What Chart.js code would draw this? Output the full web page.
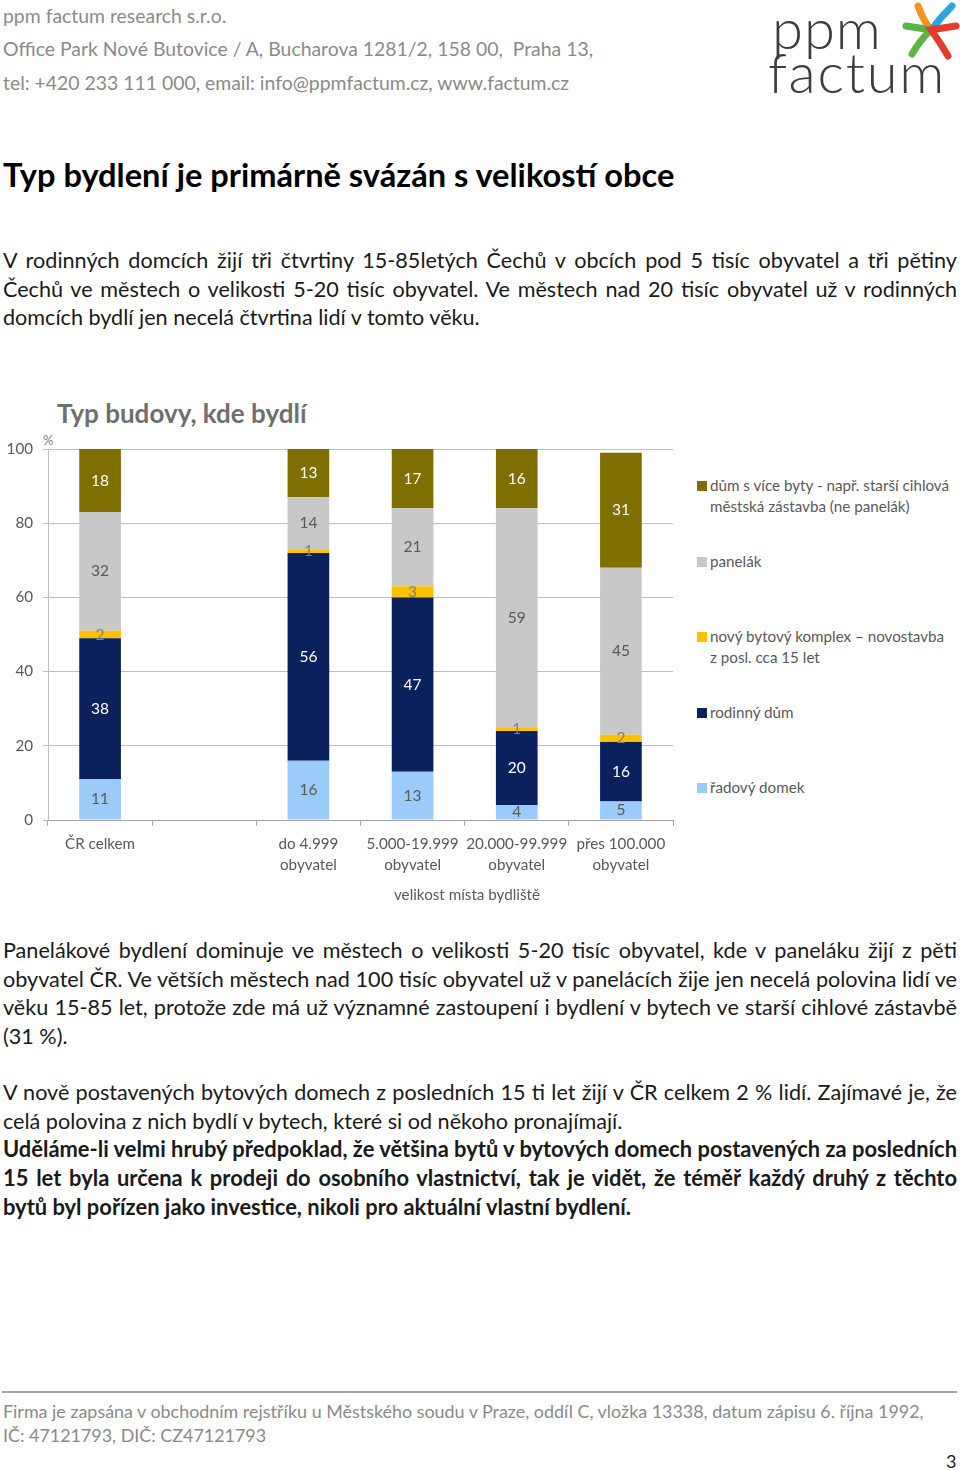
<!DOCTYPE html>
<html>
<head>
<meta charset="utf-8">
<script src="https://cdn.jsdelivr.net/npm/chart.js@4"></script>
<style>
  body { margin: 0; background: #fff; font-family: Lato, "Open Sans", sans-serif; }
  #page { position: relative; width: 960px; height: 1470px; overflow: hidden; }
  .abs { position: absolute; white-space: nowrap; }
  .hdr { left: 3px; font-size: 19.4px; color: #8a8a8a; }
  .para { position: absolute; left: 3px; width: 954px; font-size: 21.6px; color: #1a1a1a; }
  .para div { height: 28.7px; line-height: 28.7px; }
  .just { text-align: justify; text-align-last: justify; }
  .bold { font-weight: bold; font-size: 21.9px; }
  #legend { position: absolute; left: 697px; top: 0; }
  .lg { position: absolute; left: 0; font-size: 15.2px; color: #595959; line-height: 21px; white-space: nowrap; }
  .lg span.sw { position: absolute; left: 0; top: 6px; width: 10px; height: 10px; }
  .lg div { padding-left: 13px; }
</style>
</head>
<body>
<div id="page">
  <div class="abs hdr" style="top:4px">ppm factum research s.r.o.</div>
  <div class="abs hdr" style="top:37px">Office Park Nové Butovice / A, Bucharova 1281/2, 158 00,&nbsp; Praha 13,</div>
  <div class="abs hdr" style="top:71px">tel: +420 233 111 000, email: info@ppmfactum.cz, www.factum.cz</div>

  <div class="abs" style="left:772px;top:-6px;font-size:56px;font-weight:300;color:#3d3d3d;letter-spacing:1px">ppm</div>
  <div class="abs" style="left:768px;top:38px;font-size:56px;font-weight:300;color:#3d3d3d;letter-spacing:1.8px">factum</div>
  <svg class="abs" style="left:900px;top:2px" width="60" height="58" viewBox="0 0 60 58">
    <path d="M18 4 Q24 20 31 28" stroke="#f39322" stroke-width="7" fill="none" stroke-linecap="round"/>
    <path d="M52 4 Q40 16 31 28" stroke="#2aa6e0" stroke-width="7" fill="none" stroke-linecap="round"/>
    <path d="M6 24 Q20 26 31 28 Q20 38 12 52" stroke="#5bb544" stroke-width="7" fill="none" stroke-linecap="round"/>
    <path d="M56 24 Q42 26 31 28 Q40 40 48 54" stroke="#e53b2c" stroke-width="7" fill="none" stroke-linecap="round"/>
  </svg>

  <div class="abs" style="left:3px;top:155px;font-size:32.6px;font-weight:bold;color:#000">Typ bydlení je primárně svázán s velikostí obce</div>

  <div class="para" style="top:246px">
    <div class="just">V rodinných domcích žijí tři čtvrtiny 15-85letých Čechů v obcích pod 5 tisíc obyvatel a tři pětiny</div>
    <div class="just">Čechů ve městech o velikosti 5-20 tisíc obyvatel. Ve městech nad 20 tisíc obyvatel už v rodinných</div>
    <div>domcích bydlí jen necelá čtvrtina lidí v tomto věku.</div>
  </div>

  <div class="abs" style="left:57px;top:397px;font-size:26px;font-weight:bold;color:#6f6f6f">Typ budovy, kde bydlí</div>
  <div class="abs" style="left:43px;top:432px;font-size:13px;color:#7f7f7f">%</div>

  <canvas id="chart" class="abs" style="left:0;top:400px" width="680" height="510"></canvas>
  <div class="abs" style="left:394px;top:885px;font-size:15.2px;color:#595959">velikost místa bydliště</div>
  <div id="legend"></div>

  <div class="para" style="top:936px">
    <div class="just">Panelákové bydlení dominuje ve městech o velikosti 5-20 tisíc obyvatel, kde v paneláku žijí z pěti</div>
    <div class="just">obyvatel ČR. Ve větších městech nad 100 tisíc obyvatel už v panelácích žije jen necelá polovina lidí ve</div>
    <div class="just">věku 15-85 let, protože zde má už významné zastoupení i bydlení v bytech ve starší cihlové zástavbě</div>
    <div>(31 %).</div>
  </div>

  <div class="para" style="top:1078px">
    <div class="just">V nově postavených bytových domech z posledních 15 ti let žijí v ČR celkem 2 % lidí. Zajímavé je, že</div>
    <div>celá polovina z nich bydlí v bytech, které si od někoho pronajímají.</div>
    <div class="just bold">Uděláme-li velmi hrubý předpoklad, že většina bytů v bytových domech postavených za posledních</div>
    <div class="just bold">15 let byla určena k prodeji do osobního vlastnictví, tak je vidět, že téměř každý druhý z těchto</div>
    <div class="bold">bytů byl pořízen jako investice, nikoli pro aktuální vlastní bydlení.</div>
  </div>

  <div class="abs" style="left:2px;top:1391px;width:955px;height:2px;background:#a6a6a6"></div>
  <div class="abs" style="left:3px;top:1400px;font-size:17.9px;color:#8a8a8a">Firma je zapsána v obchodním rejstříku u Městského soudu v Praze, oddíl C, vložka 13338, datum zápisu 6. října 1992,</div>
  <div class="abs" style="left:3px;top:1424px;font-size:17.9px;color:#8a8a8a">IČ: 47121793, DIČ: CZ47121793</div>
  <div class="abs" style="left:946px;top:1450px;font-size:18px;color:#222">3</div>
</div>

<script>
const categories = [
    'ČR celkem',
    '',
    ['do 4.999', 'obyvatel'],
    ['5.000-19.999', 'obyvatel'],
    ['20.000-99.999', 'obyvatel'],
    ['přes 100.000', 'obyvatel']
];

// stacked bottom to top
const seriesNames = [
    'řadový domek',
    'rodinný dům',
    ['nový bytový komplex – novostavba', 'z posl. cca 15 let'],
    'panelák',
    ['dům s více byty - např. starší cihlová', 'městská zástavba (ne panelák)']
];
const radovyDomek = [11, null, 16, 13, 4, 5];
const rodinnyDum = [38, null, 56, 47, 20, 16];
const novyKomplex = [2, null, 1, 3, 1, 2];
const panelak = [32, null, 14, 21, 59, 45];
const vicebyty = [18, null, 13, 17, 16, 31];
const yTicks = [0, 20, 40, 60, 80, 100];

const colors = ['#9bcbf8', '#0b215e', '#ffc000', '#c8c8c8', '#7f6f00'];
const labelColors = ['#595959', '#ffffff', '#7f7f7f', '#595959', '#ffffff'];
const allSeries = [radovyDomek, rodinnyDum, novyKomplex, panelak, vicebyty];

// legend (top series first)
const legendTops = [475, 551, 626, 702, 777];
const legendDiv = document.getElementById('legend');
for (let i = 4; i >= 0; i--) {
    const item = document.createElement('div');
    item.className = 'lg';
    item.style.top = legendTops[4 - i] + 'px';
    const lines = Array.isArray(seriesNames[i]) ? seriesNames[i] : [seriesNames[i]];
    item.innerHTML = `<span class="sw" style="background:${colors[i]}"></span>` +
        lines.map(l => `<div>${l}</div>`).join('');
    legendDiv.appendChild(item);
}

const valueLabels = {
    id: 'valueLabels',
    afterDatasetsDraw(chart) {
        const ctx = chart.ctx;
        ctx.save();
        ctx.font = '15.5px Lato';
        ctx.textAlign = 'center';
        ctx.textBaseline = 'middle';
        chart.data.datasets.forEach((ds, i) => {
            const meta = chart.getDatasetMeta(i);
            meta.data.forEach((bar, j) => {
                const v = ds.data[j];
                if (v === null) return;
                const top = Math.max(bar.y, chart.chartArea.top);
                ctx.fillStyle = labelColors[i];
                ctx.fillText(v, bar.x, (top + bar.base) / 2);
            });
        });
        ctx.restore();
    }
};

new Chart(document.getElementById('chart'), {
    type: 'bar',
    data: {
        labels: categories,
        datasets: allSeries.map((d, i) => ({
            label: Array.isArray(seriesNames[i]) ? seriesNames[i].join(' ') : seriesNames[i],
            data: d,
            backgroundColor: colors[i],
            borderWidth: 0,
            categoryPercentage: 1,
            barPercentage: 0.4
        }))
    },
    options: {
        responsive: false,
        animation: false,
        layout: { padding: { top: 49, right: 7, bottom: 0, left: 0 } },
        plugins: {
            legend: { display: false },
            tooltip: { enabled: false }
        },
        scales: {
            x: {
                stacked: true,
                afterFit: s => { s.height = 90; },
                grid: { drawOnChartArea: false, tickLength: 6, color: '#a6a6a6' },
                border: { color: '#a6a6a6' },
                ticks: {
                    padding: 7,
                    color: '#595959',
                    font: { family: 'Lato', size: 15.2, lineHeight: 1.4 },
                    maxRotation: 0,
                    autoSkip: false
                }
            },
            y: {
                stacked: true,
                min: 0,
                max: 100,
                afterFit: s => { s.width = 48; },
                afterBuildTicks: s => { s.ticks = yTicks.map(v => ({ value: v })); },
                grid: { color: '#bfbfbf', tickLength: 5 },
                border: { color: '#bfbfbf' },
                ticks: {
                    padding: 10,
                    color: '#595959',
                    font: { family: 'Lato', size: 15.2 }
                }
            }
        }
    },
    plugins: [valueLabels]
});
</script>
</body>
</html>
